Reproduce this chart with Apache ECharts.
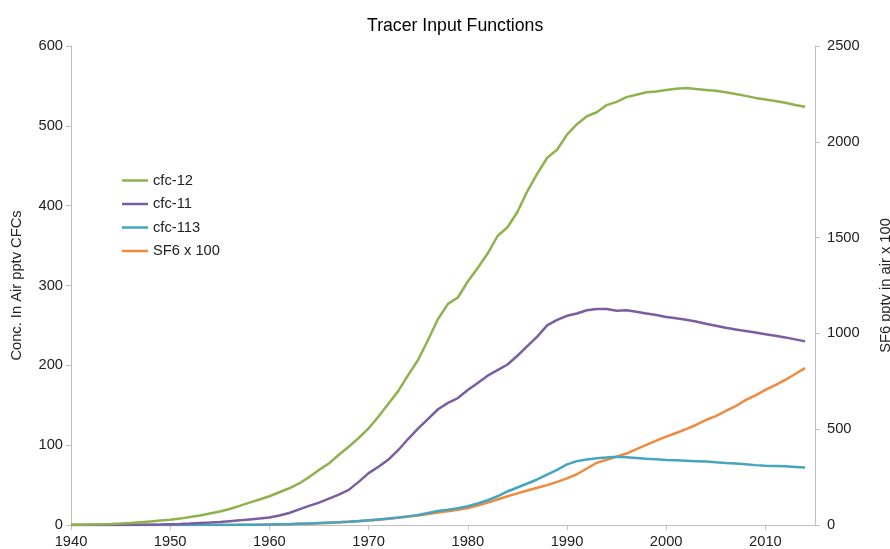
<!DOCTYPE html>
<html>
<head>
<meta charset="utf-8">
<script src="https://cdn.jsdelivr.net/npm/echarts@6/dist/echarts.min.js"></script>
<style>html,body{margin:0;padding:0;background:#fff}#c{width:890px;height:549px}</style>
</head>
<body>
<div id="c"></div>
<script>
const years = [];
for (let y = 1940; y <= 2014; y++) years.push(y);

const xTicks = [1940, 1950, 1960, 1970, 1980, 1990, 2000, 2010];
const leftTicks = [0, 100, 200, 300, 400, 500, 600];
const rightTicks = [0, 500, 1000, 1500, 2000, 2500];

// cfc-12 (pptv), 1940..2014
const cfc12 = [0,0.3,0.5,0.8,1.2,1.8,2.5,3.5,4.5,5.5,
  6.5,8,10,12,14.5,17,20,24,28,32,
  36,41,46,52,60,69,77,88,98,109,
  121,136,152,168,188,207,232,258,277,285,
  305,322,340,362,373,392,418,440,460,470,
  489,502,512,517,526,530,536,539,542,543,
  545,546.5,547.5,546,545,544,542,540,537.5,535,
  533,531,529,526,524];

// cfc-11 (pptv)
const cfc11 = [0,0,0,0,0,0,0,0.2,0.4,0.6,
  1,1.3,1.8,2.4,3,3.8,4.8,5.8,7,8,
  9.5,12,15,19.5,24,28,33,38,44,54,
  65,73,82,94,108,121,133,145,153,159,
  169,178,187,194,201,212,224,236,250,257,
  262,265,269,270.5,270.5,268.5,269,267,265,263,
  260.5,259,257,255,252,249.5,247,245,243,241,
  239,237,235,232.5,230];

// cfc-113 (pptv)
const cfc113 = [0,0,0,0,0,0,0,0,0,0,
  0,0,0,0,0,0,0.1,0.2,0.3,0.4,
  0.5,0.8,1,1.5,2,2.5,3,3.5,4.2,5,
  6,7,8,9.3,10.8,12.5,15,17.5,19,21,
  23.5,27,31,36,42,47,52,57,63,69,
  76,80,82,83.5,84.5,85.5,85,84,83,82.5,
  81.5,81,80.5,80,79.4,78.5,77.7,77,76,75,
  74.3,74,73.5,72.8,72];

// SF6 x 100 (right axis)
const sf6x100 = [0,0,0,0,0,0,0,0,0,0,
  0,0,0,0,0,0,0,0,0,1,
  2,3,4,6,7,9,11,14,17,20,
  23,27,32,38,44,50,57,65,72,80,
  88,102,117,133,150,165,180,194,208,225,
  243,265,295,325,340,357,373,396,418,440,
  461,480,500,522,548,568,595,620,652,677,
  705,730,757,788,819];

const names = ['cfc-12', 'cfc-11', 'cfc-113', 'SF6 x 100'];
const colors = ['#8FB24F', '#7A5FA0', '#45A5C0', '#F08A3E'];

const pairs = arr => years.map((y, i) => [y, arr[i]]);
const font = 'Liberation Sans, Arial, sans-serif';
const FS = 14.7;
const axisLine = { show: true, lineStyle: { color: '#BFBFBF', width: 1 } };
const axisTick = { show: true, length: 5, inside: false, lineStyle: { color: '#BFBFBF' } };
const lbl = { color: '#222', fontSize: FS, fontFamily: font, formatter: v => String(v) };

const chart = echarts.init(document.getElementById('c'), null, { renderer: 'canvas' });
chart.setOption({
  backgroundColor: '#fff',
  animation: false,
  title: {
    text: 'Tracer Input Functions',
    left: 362, top: 12,
    textStyle: { color: '#000', fontSize: 17.7, fontWeight: 'normal', fontFamily: font }
  },
  legend: {
    orient: 'vertical', left: 122, top: 173, padding: 0,
    icon: 'rect', itemWidth: 26, itemHeight: 2.5, itemGap: 8.5,
    textStyle: { color: '#222', fontSize: FS, fontFamily: font },
    data: names
  },
  grid: { left: 71, right: 75, top: 46, bottom: 24, containLabel: false, outerBoundsMode: 'none' },
  xAxis: {
    type: 'value', min: 1940, max: 2015, interval: 10,
    axisLine: axisLine,
    axisTick: Object.assign({}, axisTick, { customValues: xTicks }),
    axisLabel: Object.assign({}, lbl, { margin: 9, customValues: xTicks }),
    splitLine: { show: false }
  },
  yAxis: [
    {
      type: 'value', min: 0, max: 600, interval: 100,
      name: 'Conc. In Air pptv CFCs', nameLocation: 'middle', nameGap: 47, nameRotate: 90,
      nameTextStyle: { color: '#222', fontSize: FS, fontFamily: font },
      axisLine: axisLine, axisTick: axisTick,
      axisLabel: Object.assign({}, lbl, { margin: 8 }),
      splitLine: { show: false }
    },
    {
      type: 'value', min: 0, max: 2500, interval: 500, position: 'right',
      name: 'SF6 pptv in air x 100', nameLocation: 'middle', nameGap: 63, nameRotate: 90,
      nameTextStyle: { color: '#222', fontSize: FS, fontFamily: font },
      axisLine: axisLine, axisTick: axisTick,
      axisLabel: Object.assign({}, lbl, { margin: 12 }),
      splitLine: { show: false }
    }
  ],
  series: [
    { name: names[0], type: 'line', data: pairs(cfc12), yAxisIndex: 0 },
    { name: names[1], type: 'line', data: pairs(cfc11), yAxisIndex: 0 },
    { name: names[2], type: 'line', data: pairs(cfc113), yAxisIndex: 0 },
    { name: names[3], type: 'line', data: pairs(sf6x100), yAxisIndex: 1 }
  ].map((s, i) => Object.assign(s, {
    symbol: 'none', showSymbol: false, smooth: false,
    color: colors[i],
    lineStyle: { color: colors[i], width: 2.5 },
    itemStyle: { color: colors[i] },
    z: 10 - i
  }))
});
</script>
</body>
</html>
